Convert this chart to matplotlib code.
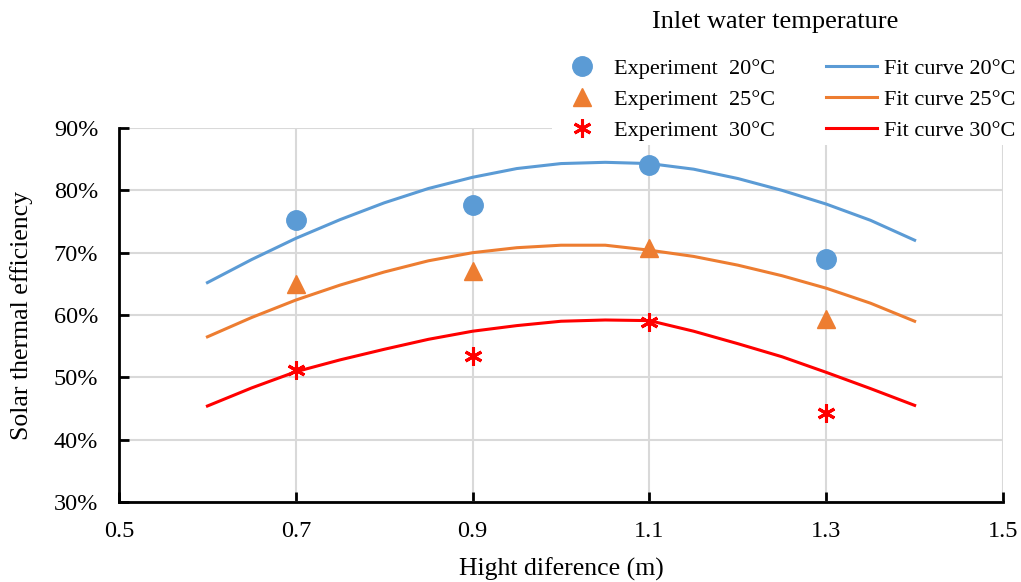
import numpy as np
import matplotlib.pyplot as plt
from matplotlib.ticker import PercentFormatter

plt.rcParams['font.family'] = ['Liberation Serif', 'DejaVu Serif']

# measured points
x_exp = [0.7, 0.9, 1.1, 1.3]
exp_20 = [75.3, 77.7, 84.1, 69.0]
exp_25 = [65.0, 67.1, 70.8, 59.4]
exp_30 = [51.2, 53.4, 58.9, 44.3]

# fitted curves
x_fit = [0.6, 0.65, 0.7, 0.75, 0.8, 0.85, 0.9, 0.95, 1.0, 1.05,
         1.1, 1.15, 1.2, 1.25, 1.3, 1.35, 1.4]
fit_20 = [65.2, 68.9, 72.3, 75.3, 78.0, 80.3, 82.1, 83.5, 84.3, 84.5,
          84.3, 83.4, 81.9, 80.0, 77.8, 75.2, 72.0]
fit_25 = [56.5, 59.6, 62.4, 64.8, 66.9, 68.7, 70.0, 70.8, 71.2, 71.2,
          70.4, 69.4, 68.0, 66.3, 64.3, 61.9, 59.0]
fit_30 = [45.4, 48.3, 50.9, 52.8, 54.5, 56.1, 57.4, 58.3, 59.0, 59.2,
          59.1, 57.4, 55.4, 53.3, 50.8, 48.2, 45.5]

blue = '#5B9BD5'
orange = '#ED7D31'
red = '#FF0000'

fig = plt.figure(figsize=(10.21, 5.82), dpi=100)
ax = fig.add_axes([0.1166, 0.1375, 0.8658, 0.6425])

l1, = ax.plot(x_fit, fit_20, color=blue, lw=2.2, label='Fit curve 20°C')
l2, = ax.plot(x_fit, fit_25, color=orange, lw=2.2, label='Fit curve 25°C')
l3, = ax.plot(x_fit, fit_30, color=red, lw=2.2, label='Fit curve 30°C')
m1, = ax.plot(x_exp, exp_20, 'o', color=blue, ms=14, ls='none', label='Experiment  20°C')
m2, = ax.plot(x_exp, exp_25, '^', color=orange, ms=13, ls='none', label='Experiment  25°C')
m3, = ax.plot(x_exp, exp_30, ls='none', marker=(6, 2, 0), color=red, ms=13, mew=2.2,
              label='Experiment  30°C')

ax.set_xlim(0.5, 1.5)
ax.set_ylim(30, 90)
ax.set_xticks([0.5, 0.7, 0.9, 1.1, 1.3, 1.5])
ax.set_xticklabels(['0.5', '0.7', '0.9', '1.1', '1.3', '1.5'])
ax.set_yticks([30, 40, 50, 60, 70, 80, 90])
ax.yaxis.set_major_formatter(PercentFormatter(decimals=0))
ax.grid(True, color='#d9d9d9', lw=1.5)
ax.set_axisbelow(True)
for s in ['top', 'right']:
    ax.spines[s].set_visible(False)
for s in ['left', 'bottom']:
    ax.spines[s].set_linewidth(2)
ax.tick_params(axis='x', direction='in', length=7, width=2, labelsize=17.5, pad=14)
ax.tick_params(axis='y', direction='in', length=7, width=2, labelsize=17.5, pad=15)
ax.set_xlabel('Hight diference (m)', fontsize=18.5, labelpad=11)
ax.set_ylabel('Solar thermal efficiency', fontsize=18.5, labelpad=15)

leg = ax.legend(handles=[m1, m2, m3, l1, l2, l3], ncol=2, loc='upper right',
                bbox_to_anchor=(1.01, 0.926), bbox_transform=fig.transFigure,
                fontsize=16, frameon=True, facecolor='white', edgecolor='none',
                framealpha=1, fancybox=False, handlelength=2.3, handletextpad=0.3,
                columnspacing=2.3, labelspacing=0.46, borderpad=0.2)
leg.set_zorder(5)
fig.text(0.759, 0.963, 'Inlet water temperature', fontsize=19, ha='center', va='center')

fig.savefig('out.png', dpi=100)
